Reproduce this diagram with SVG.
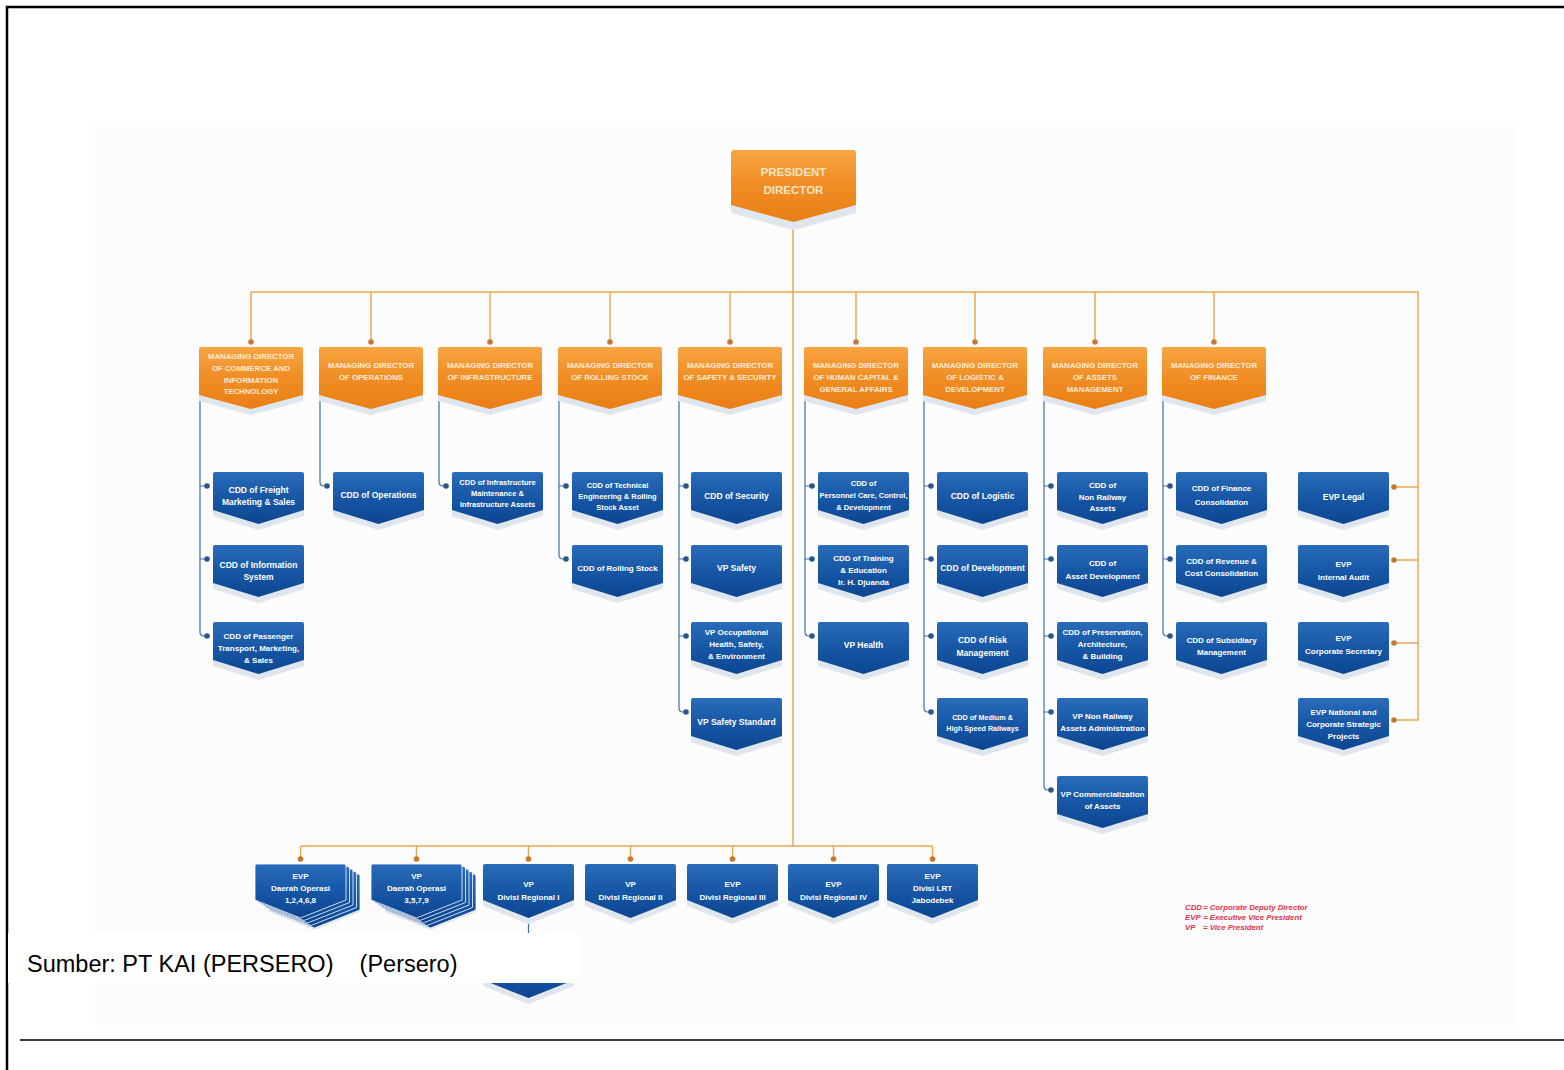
<svg xmlns="http://www.w3.org/2000/svg" width="1564" height="1070" viewBox="0 0 1564 1070">
<defs>
<linearGradient id="og" x1="0" y1="0" x2="0" y2="1">
<stop offset="0" stop-color="#f7a543"/><stop offset="0.5" stop-color="#f08d24"/><stop offset="1" stop-color="#e97e16"/>
</linearGradient>
<linearGradient id="bg" x1="0" y1="0" x2="0" y2="1">
<stop offset="0" stop-color="#2a6cb9"/><stop offset="0.5" stop-color="#1757a6"/><stop offset="1" stop-color="#0c4590"/>
</linearGradient>
<path id="pP" d="M3,0 H122 Q125,0 125,3 V55 L62.5,72 L0,55 V3 Q0,0 3,0 Z"/>
<path id="pM" d="M2,0 H102 Q104,0 104,2 V48 L52,62 L0,48 V2 Q0,0 2,0 Z"/>
<path id="pB" d="M2,0 H89 Q91,0 91,2 V38 L45.5,52 L0,38 V2 Q0,0 2,0 Z"/>
<path id="pR" d="M2,0 H89 Q91,0 91,2 V36 L45.5,54 L0,36 V2 Q0,0 2,0 Z"/>
</defs>
<style>
.o{fill:url(#og)}
.b{fill:url(#bg)}
.sh{fill:#dfe6ee}
.pg{stroke:#ffffff;stroke-width:0.8}
text{font-family:"Liberation Sans",Arial,sans-serif;font-weight:bold;text-anchor:middle}
.bt{font-size:8.5px;fill:#ffffff}
.s8{font-size:8px}
.s75{font-size:7.5px}
.s72{font-size:7.2px}
.ot{font-size:7.8px;fill:#fdebd5}
.pt{font-size:11.5px;fill:#fde4c4}
.ol{stroke:#eba654;stroke-width:1.5;fill:none}
.bl{stroke:#3f6ea5;stroke-width:1.2;fill:none}
.od{fill:#c9792e}
.bd{fill:#2b5689}
.leg{font-size:7.8px;font-style:italic;fill:#e2344d;text-anchor:start}
.cap{font-family:"Liberation Sans",Arial,sans-serif;font-weight:normal;font-size:23.5px;fill:#000000;text-anchor:start}
</style>
<rect x="0" y="0" width="1564" height="1070" fill="#ffffff"/>
<rect x="95" y="122" width="1423" height="903" fill="#fcfcfc"/>
<g id="frame" fill="none" stroke="#000000">
<path d="M7,1070 V7 H1564" stroke-width="2.5"/>
<path d="M20,1040 H1564" stroke-width="1.5"/>
</g>
<g id="connectors">
<path class="ol" d="M793,222 V846"/>
<path class="ol" d="M251,292 H1418 V720 H1394"/>
<path class="ol" d="M251,292 V342 M371,292 V342 M490,292 V342 M610,292 V342 M730,292 V342 M856,292 V342 M975,292 V342 M1095,292 V342 M1214,292 V342"/>
<path class="ol" d="M1418,487 H1394 M1418,560 H1394 M1418,643 H1394"/>
<path class="ol" d="M300.5,846 H932.5 M300.5,846 V859 M416.5,846 V859 M528.5,846 V859 M630.5,846 V859 M732.5,846 V859 M833.5,846 V859 M932.5,846 V859"/>
<g class="od">
<circle cx="251" cy="342" r="2.8"/><circle cx="371" cy="342" r="2.8"/><circle cx="490" cy="342" r="2.8"/><circle cx="610" cy="342" r="2.8"/><circle cx="730" cy="342" r="2.8"/><circle cx="856" cy="342" r="2.8"/><circle cx="975" cy="342" r="2.8"/><circle cx="1095" cy="342" r="2.8"/><circle cx="1214" cy="342" r="2.8"/>
<circle cx="1394" cy="487" r="2.8"/><circle cx="1394" cy="560" r="2.8"/><circle cx="1394" cy="643" r="2.8"/><circle cx="1394" cy="720" r="2.8"/>
<circle cx="300.5" cy="859" r="2.8"/><circle cx="416.5" cy="859" r="2.8"/><circle cx="528.5" cy="859" r="2.8"/><circle cx="630.5" cy="859" r="2.8"/><circle cx="732.5" cy="859" r="2.8"/><circle cx="833.5" cy="859" r="2.8"/><circle cx="932.5" cy="859" r="2.8"/>
</g>
<path class="bl" d="M200,396 V632 Q200,636 204,636 H207"/>
<path class="bl" d="M320,396 V482 Q320,486 324,486 H327"/>
<path class="bl" d="M439,396 V482 Q439,486 443,486 H446"/>
<path class="bl" d="M559,396 V555 Q559,559 563,559 H566"/>
<path class="bl" d="M679,396 V708 Q679,712 683,712 H686"/>
<path class="bl" d="M805,396 V632 Q805,636 809,636 H812"/>
<path class="bl" d="M924,396 V708 Q924,712 928,712 H931"/>
<path class="bl" d="M1044,396 V786 Q1044,790 1048,790 H1051"/>
<path class="bl" d="M1163,396 V632 Q1163,636 1167,636 H1170"/>
<path class="bl" d="M200,486 H207 M200,559 H207 M559,486 H566 M679,486 H686 M679,559 H686 M679,636 H686 M805,486 H812 M805,559 H812 M924,486 H931 M924,559 H931 M924,636 H931 M1044,486 H1051 M1044,559 H1051 M1044,636 H1051 M1044,712 H1051 M1163,486 H1170 M1163,559 H1170"/>
<path class="bl" d="M528.5,922 V944"/>
<g class="bd">
<circle cx="207" cy="486" r="2.8"/><circle cx="207" cy="559" r="2.8"/><circle cx="207" cy="636" r="2.8"/>
<circle cx="327" cy="486" r="2.8"/>
<circle cx="446" cy="486" r="2.8"/>
<circle cx="566" cy="486" r="2.8"/><circle cx="566" cy="559" r="2.8"/>
<circle cx="686" cy="486" r="2.8"/><circle cx="686" cy="559" r="2.8"/><circle cx="686" cy="636" r="2.8"/><circle cx="686" cy="712" r="2.8"/>
<circle cx="812" cy="486" r="2.8"/><circle cx="812" cy="559" r="2.8"/><circle cx="812" cy="636" r="2.8"/>
<circle cx="931" cy="486" r="2.8"/><circle cx="931" cy="559" r="2.8"/><circle cx="931" cy="636" r="2.8"/><circle cx="931" cy="712" r="2.8"/>
<circle cx="1051" cy="486" r="2.8"/><circle cx="1051" cy="559" r="2.8"/><circle cx="1051" cy="636" r="2.8"/><circle cx="1051" cy="712" r="2.8"/><circle cx="1051" cy="790" r="2.8"/>
<circle cx="1170" cy="486" r="2.8"/><circle cx="1170" cy="559" r="2.8"/><circle cx="1170" cy="636" r="2.8"/>
</g>
</g>

<g id="president" transform="translate(731,150)"><use href="#pP" class="sh" y="8"/><use href="#pP" class="o"/><text class="pt"><tspan x="62.5" y="26">PRESIDENT</tspan><tspan x="62.5" y="44">DIRECTOR</tspan></text></g>

<g id="md-commerce" transform="translate(199,347)"><use href="#pM" class="sh" y="6"/><use href="#pM" class="o"/><text class="ot"><tspan x="52" y="12">MANAGING DIRECTOR</tspan><tspan x="52" y="24">OF COMMERCE AND</tspan><tspan x="52" y="36">INFORMATION</tspan><tspan x="52" y="47">TECHNOLOGY</tspan></text></g>
<g id="md-operations" transform="translate(319,347)"><use href="#pM" class="sh" y="6"/><use href="#pM" class="o"/><text class="ot"><tspan x="52" y="21">MANAGING DIRECTOR</tspan><tspan x="52" y="33">OF OPERATIONS</tspan></text></g>
<g id="md-infrastructure" transform="translate(438,347)"><use href="#pM" class="sh" y="6"/><use href="#pM" class="o"/><text class="ot"><tspan x="52" y="21">MANAGING DIRECTOR</tspan><tspan x="52" y="33">OF INFRASTRUCTURE</tspan></text></g>
<g id="md-rolling" transform="translate(558,347)"><use href="#pM" class="sh" y="6"/><use href="#pM" class="o"/><text class="ot"><tspan x="52" y="21">MANAGING DIRECTOR</tspan><tspan x="52" y="33">OF ROLLING STOCK</tspan></text></g>
<g id="md-safety" transform="translate(678,347)"><use href="#pM" class="sh" y="6"/><use href="#pM" class="o"/><text class="ot"><tspan x="52" y="21">MANAGING DIRECTOR</tspan><tspan x="52" y="33">OF SAFETY &amp; SECURITY</tspan></text></g>
<g id="md-human" transform="translate(804,347)"><use href="#pM" class="sh" y="6"/><use href="#pM" class="o"/><text class="ot"><tspan x="52" y="21">MANAGING DIRECTOR</tspan><tspan x="52" y="33">OF HUMAN CAPITAL &amp;</tspan><tspan x="52" y="45">GENERAL AFFAIRS</tspan></text></g>
<g id="md-logistic" transform="translate(923,347)"><use href="#pM" class="sh" y="6"/><use href="#pM" class="o"/><text class="ot"><tspan x="52" y="21">MANAGING DIRECTOR</tspan><tspan x="52" y="33">OF LOGISTIC &amp;</tspan><tspan x="52" y="45">DEVELOPMENT</tspan></text></g>
<g id="md-assets" transform="translate(1043,347)"><use href="#pM" class="sh" y="6"/><use href="#pM" class="o"/><text class="ot"><tspan x="52" y="21">MANAGING DIRECTOR</tspan><tspan x="52" y="33">OF ASSETS</tspan><tspan x="52" y="45">MANAGEMENT</tspan></text></g>
<g id="md-finance" transform="translate(1162,347)"><use href="#pM" class="sh" y="6"/><use href="#pM" class="o"/><text class="ot"><tspan x="52" y="21">MANAGING DIRECTOR</tspan><tspan x="52" y="33">OF FINANCE</tspan></text></g>

<g id="cdd-freight" transform="translate(213,472)"><use href="#pB" class="sh" y="6"/><use href="#pB" class="b"/><text class="bt"><tspan x="45.5" y="21">CDD of Freight</tspan><tspan x="45.5" y="33">Marketing &amp; Sales</tspan></text></g>
<g id="cdd-information" transform="translate(213,545)"><use href="#pB" class="sh" y="6"/><use href="#pB" class="b"/><text class="bt"><tspan x="45.5" y="23">CDD of Information</tspan><tspan x="45.5" y="35">System</tspan></text></g>
<g id="cdd-passenger" transform="translate(213,622)"><use href="#pB" class="sh" y="6"/><use href="#pB" class="b"/><text class="bt s8"><tspan x="45.5" y="17">CDD of Passenger</tspan><tspan x="45.5" y="29">Transport, Marketing,</tspan><tspan x="45.5" y="41">&amp; Sales</tspan></text></g>
<g id="cdd-operations" transform="translate(333,472)"><use href="#pB" class="sh" y="6"/><use href="#pB" class="b"/><text class="bt"><tspan x="45.5" y="26">CDD of Operations</tspan></text></g>
<g id="cdd-infrastructure" transform="translate(452,472)"><use href="#pB" class="sh" y="6"/><use href="#pB" class="b"/><text class="bt s75"><tspan x="45.5" y="13">CDD of Infrastructure</tspan><tspan x="45.5" y="24">Maintenance &amp;</tspan><tspan x="45.5" y="35">Infrastructure Assets</tspan></text></g>
<g id="cdd-technical" transform="translate(572,472)"><use href="#pB" class="sh" y="6"/><use href="#pB" class="b"/><text class="bt s75"><tspan x="45.5" y="16">CDD of Technical</tspan><tspan x="45.5" y="27">Engineering &amp; Rolling</tspan><tspan x="45.5" y="38">Stock Asset</tspan></text></g>
<g id="cdd-rolling" transform="translate(572,545)"><use href="#pB" class="sh" y="6"/><use href="#pB" class="b"/><text class="bt s8"><tspan x="45.5" y="26">CDD of Rolling Stock</tspan></text></g>
<g id="cdd-security" transform="translate(691,472)"><use href="#pB" class="sh" y="6"/><use href="#pB" class="b"/><text class="bt"><tspan x="45.5" y="27">CDD of Security</tspan></text></g>
<g id="vp-safety" transform="translate(691,545)"><use href="#pB" class="sh" y="6"/><use href="#pB" class="b"/><text class="bt"><tspan x="45.5" y="26">VP Safety</tspan></text></g>
<g id="vp-ohs" transform="translate(691,622)"><use href="#pB" class="sh" y="6"/><use href="#pB" class="b"/><text class="bt s8"><tspan x="45.5" y="13">VP Occupational</tspan><tspan x="45.5" y="24.5">Health, Safety,</tspan><tspan x="45.5" y="36.5">&amp; Environment</tspan></text></g>
<g id="vp-safety-standard" transform="translate(691,698)"><use href="#pB" class="sh" y="6"/><use href="#pB" class="b"/><text class="bt"><tspan x="45.5" y="27">VP Safety Standard</tspan></text></g>
<g id="cdd-personnel" transform="translate(818,472)"><use href="#pB" class="sh" y="6"/><use href="#pB" class="b"/><text class="bt s75"><tspan x="45.5" y="14">CDD of</tspan><tspan x="45.5" y="26">Personnel Care, Control,</tspan><tspan x="45.5" y="38">&amp; Development</tspan></text></g>
<g id="cdd-training" transform="translate(818,545)"><use href="#pB" class="sh" y="6"/><use href="#pB" class="b"/><text class="bt s8"><tspan x="45.5" y="16">CDD of Training</tspan><tspan x="45.5" y="28">&amp; Education</tspan><tspan x="45.5" y="40">Ir. H. Djuanda</tspan></text></g>
<g id="vp-health" transform="translate(818,622)"><use href="#pB" class="sh" y="6"/><use href="#pB" class="b"/><text class="bt"><tspan x="45.5" y="26">VP Health</tspan></text></g>
<g id="cdd-logistic" transform="translate(937,472)"><use href="#pB" class="sh" y="6"/><use href="#pB" class="b"/><text class="bt"><tspan x="45.5" y="27">CDD of Logistic</tspan></text></g>
<g id="cdd-development" transform="translate(937,545)"><use href="#pB" class="sh" y="6"/><use href="#pB" class="b"/><text class="bt"><tspan x="45.5" y="26">CDD of Development</tspan></text></g>
<g id="cdd-risk" transform="translate(937,622)"><use href="#pB" class="sh" y="6"/><use href="#pB" class="b"/><text class="bt"><tspan x="45.5" y="21">CDD of Risk</tspan><tspan x="45.5" y="34">Management</tspan></text></g>
<g id="cdd-medium" transform="translate(937,698)"><use href="#pB" class="sh" y="6"/><use href="#pB" class="b"/><text class="bt s72"><tspan x="45.5" y="22">CDD of Medium &amp;</tspan><tspan x="45.5" y="33">High Speed Railways</tspan></text></g>
<g id="cdd-non-railway" transform="translate(1057,472)"><use href="#pB" class="sh" y="6"/><use href="#pB" class="b"/><text class="bt s8"><tspan x="45.5" y="16">CDD of</tspan><tspan x="45.5" y="28">Non Railway</tspan><tspan x="45.5" y="39">Assets</tspan></text></g>
<g id="cdd-asset-dev" transform="translate(1057,545)"><use href="#pB" class="sh" y="6"/><use href="#pB" class="b"/><text class="bt s8"><tspan x="45.5" y="21">CDD of</tspan><tspan x="45.5" y="34">Asset Development</tspan></text></g>
<g id="cdd-preservation" transform="translate(1057,622)"><use href="#pB" class="sh" y="6"/><use href="#pB" class="b"/><text class="bt s8"><tspan x="45.5" y="13">CDD of Preservation,</tspan><tspan x="45.5" y="25">Architecture,</tspan><tspan x="45.5" y="37">&amp; Building</tspan></text></g>
<g id="vp-non-railway" transform="translate(1057,698)"><use href="#pB" class="sh" y="6"/><use href="#pB" class="b"/><text class="bt s8"><tspan x="45.5" y="21">VP Non Railway</tspan><tspan x="45.5" y="33">Assets Administration</tspan></text></g>
<g id="vp-commercialization" transform="translate(1057,776)"><use href="#pB" class="sh" y="6"/><use href="#pB" class="b"/><text class="bt s8"><tspan x="45.5" y="21">VP Commercialization</tspan><tspan x="45.5" y="33">of Assets</tspan></text></g>
<g id="cdd-finance" transform="translate(1176,472)"><use href="#pB" class="sh" y="6"/><use href="#pB" class="b"/><text class="bt s8"><tspan x="45.5" y="19">CDD of Finance</tspan><tspan x="45.5" y="33">Consolidation</tspan></text></g>
<g id="cdd-revenue" transform="translate(1176,545)"><use href="#pB" class="sh" y="6"/><use href="#pB" class="b"/><text class="bt s8"><tspan x="45.5" y="19">CDD of Revenue &amp;</tspan><tspan x="45.5" y="31">Cost Consolidation</tspan></text></g>
<g id="cdd-subsidiary" transform="translate(1176,622)"><use href="#pB" class="sh" y="6"/><use href="#pB" class="b"/><text class="bt s8"><tspan x="45.5" y="21">CDD of Subsidiary</tspan><tspan x="45.5" y="33">Management</tspan></text></g>
<g id="evp-legal" transform="translate(1298,472)"><use href="#pB" class="sh" y="6"/><use href="#pB" class="b"/><text class="bt"><tspan x="45.5" y="28">EVP Legal</tspan></text></g>
<g id="evp-audit" transform="translate(1298,545)"><use href="#pB" class="sh" y="6"/><use href="#pB" class="b"/><text class="bt s8"><tspan x="45.5" y="22">EVP</tspan><tspan x="45.5" y="35">Internal Audit</tspan></text></g>
<g id="evp-secretary" transform="translate(1298,622)"><use href="#pB" class="sh" y="6"/><use href="#pB" class="b"/><text class="bt s8"><tspan x="45.5" y="19">EVP</tspan><tspan x="45.5" y="32">Corporate Secretary</tspan></text></g>
<g id="evp-national" transform="translate(1298,698)"><use href="#pB" class="sh" y="6"/><use href="#pB" class="b"/><text class="bt s8"><tspan x="45.5" y="17">EVP National and</tspan><tspan x="45.5" y="29">Corporate Strategic</tspan><tspan x="45.5" y="41">Projects</tspan></text></g>

<g id="evp-daop" transform="translate(255,864)"><use href="#pR" class="sh" x="14" y="12"/><use href="#pR" class="b pg" x="14" y="10"/><use href="#pR" class="b pg" x="10.5" y="7.5"/><use href="#pR" class="b pg" x="7" y="5"/><use href="#pR" class="b pg" x="3.5" y="2.5"/><use href="#pR" class="b pg"/><text class="bt s8"><tspan x="45.5" y="15">EVP</tspan><tspan x="45.5" y="27">Daerah Operasi</tspan><tspan x="45.5" y="39">1,2,4,6,8</tspan></text></g>
<g id="vp-daop" transform="translate(371,864)"><use href="#pR" class="sh" x="14" y="12"/><use href="#pR" class="b pg" x="14" y="10"/><use href="#pR" class="b pg" x="10.5" y="7.5"/><use href="#pR" class="b pg" x="7" y="5"/><use href="#pR" class="b pg" x="3.5" y="2.5"/><use href="#pR" class="b pg"/><text class="bt s8"><tspan x="45.5" y="15">VP</tspan><tspan x="45.5" y="27">Daerah Operasi</tspan><tspan x="45.5" y="39">3,5,7,9</tspan></text></g>
<g id="vp-divre-1" transform="translate(483,864)"><use href="#pR" class="sh" y="6"/><use href="#pR" class="b"/><text class="bt s8"><tspan x="45.5" y="23">VP</tspan><tspan x="45.5" y="36">Divisi Regional I</tspan></text></g>
<g id="vp-divre-2" transform="translate(585,864)"><use href="#pR" class="sh" y="6"/><use href="#pR" class="b"/><text class="bt s8"><tspan x="45.5" y="23">VP</tspan><tspan x="45.5" y="36">Divisi Regional II</tspan></text></g>
<g id="evp-divre-3" transform="translate(687,864)"><use href="#pR" class="sh" y="6"/><use href="#pR" class="b"/><text class="bt s8"><tspan x="45.5" y="23">EVP</tspan><tspan x="45.5" y="36">Divisi Regional III</tspan></text></g>
<g id="evp-divre-4" transform="translate(788,864)"><use href="#pR" class="sh" y="6"/><use href="#pR" class="b"/><text class="bt s8"><tspan x="45.5" y="23">EVP</tspan><tspan x="45.5" y="36">Divisi Regional IV</tspan></text></g>
<g id="evp-lrt" transform="translate(887,864)"><use href="#pR" class="sh" y="6"/><use href="#pR" class="b"/><text class="bt s8"><tspan x="45.5" y="15">EVP</tspan><tspan x="45.5" y="27">Divisi LRT</tspan><tspan x="45.5" y="39">Jabodebek</tspan></text></g>
<g id="hidden-node" transform="translate(483,944)"><use href="#pR" class="sh" y="6"/><use href="#pR" class="b"/></g>

<g id="legend">
<text class="leg"><tspan x="1185" y="910">CDD</tspan><tspan x="1203" y="910">= Corporate Deputy Director</tspan></text>
<text class="leg"><tspan x="1185" y="920">EVP</tspan><tspan x="1203" y="920">= Executive Vice President</tspan></text>
<text class="leg"><tspan x="1185" y="930">VP</tspan><tspan x="1203" y="930">= Vice President</tspan></text>
</g>

<g id="caption">
<rect x="8" y="933" width="570" height="50" fill="#ffffff"/>
<text class="cap" x="27" y="972" xml:space="preserve">Sumber: PT KAI (PERSERO)    (Persero)</text>
</g>
</svg>
